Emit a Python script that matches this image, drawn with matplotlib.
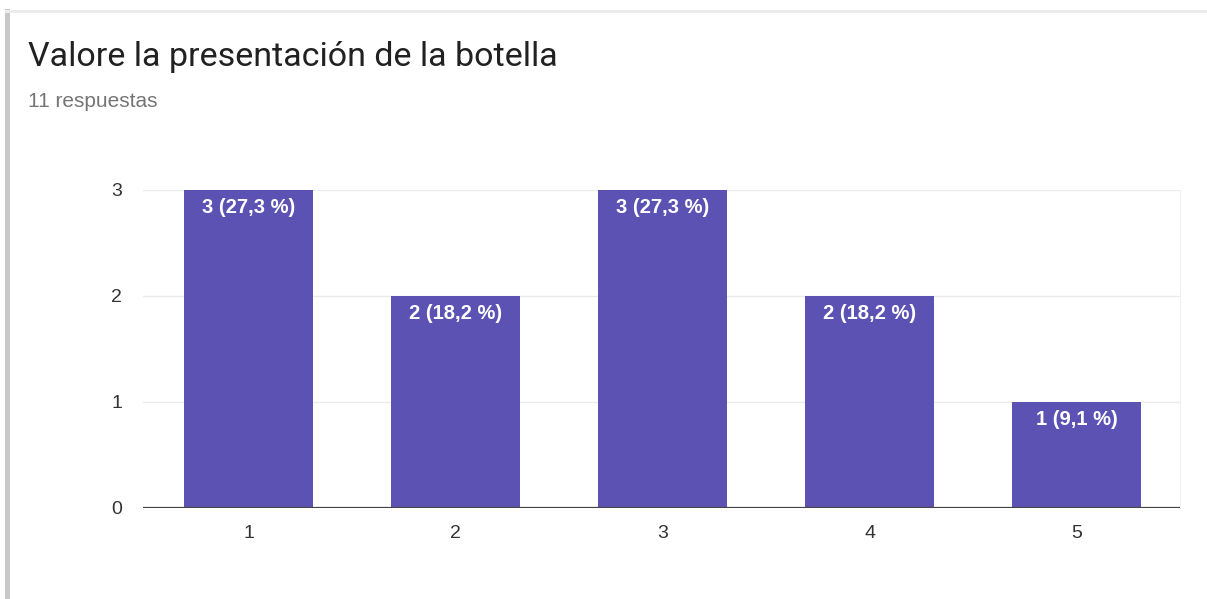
import matplotlib.pyplot as plt
from matplotlib.patches import Rectangle

plt.rcParams["font.family"] = ["Roboto", "DejaVu Sans"]

ratings = [1, 2, 3, 4, 5]
counts = [3, 2, 3, 2, 1]
percents = ["27,3", "18,2", "27,3", "18,2", "9,1"]
total = 11

fig = plt.figure(figsize=(12.07, 5.99), dpi=100)
fig.patch.set_facecolor("white")

# card edge shadow on the left and top
fig.patches.append(Rectangle((0.004, 0.0), 0.004, 0.985, transform=fig.transFigure,
                             facecolor="#c8c8c8", edgecolor="none", zorder=0))
fig.patches.append(Rectangle((0.004, 0.978), 0.996, 0.006, transform=fig.transFigure,
                             facecolor="#ececec", edgecolor="none", zorder=0))

fig.text(0.023, 0.905, "Valore la presentación de la botella", fontsize=24.5,
         color="#212121", va="center", ha="left")
fig.text(0.023, 0.830, f"{total} respuestas", fontsize=15, color="#757575",
         va="center", ha="left", family=["Liberation Sans", "DejaVu Sans"])

ax = fig.add_axes([143 / 1207, 1 - 508 / 599, (1180 - 143) / 1207, (508 - 190) / 599])
bars = ax.bar(ratings, counts, width=0.62, color="#5c52b4", zorder=2)

for b, c, p in zip(bars, counts, percents):
    ax.text(b.get_x() + b.get_width() / 2, c - 0.075, f"{c} ({p} %)", color="white",
            fontsize=14.5, fontweight="bold", ha="center", va="top", zorder=3,
            family=["Liberation Sans", "DejaVu Sans"])

ax.set_xlim(0.49, 5.5)
ax.set_ylim(0, 3)
ax.set_yticks([0, 1, 2, 3])
ax.set_xticks(ratings)
ax.grid(axis="y", color="#ebebeb", linewidth=1, zorder=0)
ax.axhline(0, color="#444444", linewidth=1.6, zorder=4)
for s in ["top", "right", "left", "bottom"]:
    ax.spines[s].set_visible(False)
ax.spines["right"].set_visible(True)
ax.spines["right"].set_color("#f0f0f0")
ax.tick_params(length=0, labelsize=14, colors="#333333")
for lbl in ax.get_xticklabels() + ax.get_yticklabels():
    lbl.set_family(["Liberation Sans", "DejaVu Sans"])
ax.tick_params(axis="y", pad=15)
ax.tick_params(axis="x", pad=12)

fig.savefig("out.png", dpi=100)
